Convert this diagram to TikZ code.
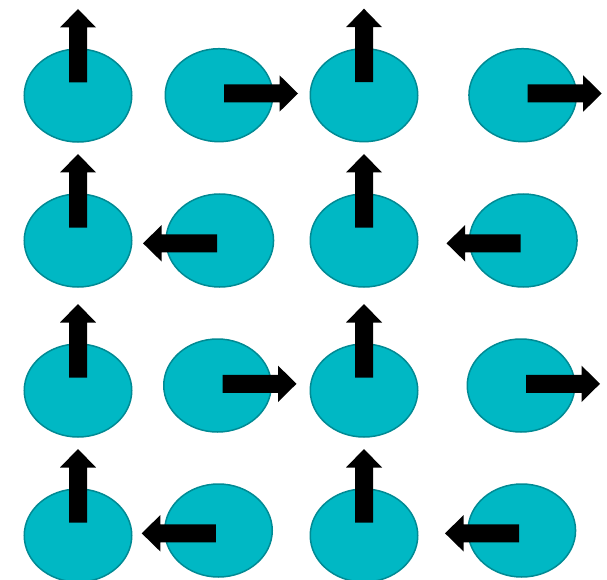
\documentclass[tikz,border=0pt]{standalone}
\usetikzlibrary{shapes.geometric}
\definecolor{ballfill}{RGB}{0,184,196}
\definecolor{ballline}{RGB}{0,138,148}
\begin{document}
\begin{tikzpicture}[x=1pt,y=-1pt,
  ball/.style={ellipse,draw=ballline,fill=ballfill,line width=1.5pt,inner sep=0pt,minimum width=107.5pt,minimum height=93pt},
  uparr/.pic={\fill[black] (-9,-13) -- (-9,-68) -- (-18,-68) -- (0,-86.5) -- (18,-68) -- (9,-68) -- (9,-13) -- cycle;},
  rightarr/.pic={\fill[black] (5,-10.7) -- (60.5,-10.7) -- (60.5,-19.9) -- (79,-1.7) -- (60.5,16.5) -- (60.5,7.3) -- (5,7.3) -- cycle;},
  leftarr/.pic={\fill[black] (-2.7,-6.2) -- (-58.2,-6.2) -- (-58.2,-15.4) -- (-76.8,2.8) -- (-58.2,21) -- (-58.2,11.8) -- (-2.7,11.8) -- cycle;}
]
\useasboundingbox (0,0) rectangle (607,580);
% row 1
\node[ball] (e11) at (78,95.5) {};
\node[ball] (e12) at (219,95.2) {};
\node[ball] (e13) at (364,95.2) {};
\node[ball] (e14) at (522.7,95.2) {};
% row 2
\node[ball] (e21) at (78,240.5) {};
\node[ball] (e22) at (219.8,240.5) {};
\node[ball] (e23) at (364,240.5) {};
\node[ball] (e24) at (523.3,240.5) {};
% row 3
\node[ball] (e31) at (78,390.5) {};
\node[ball] (e32) at (217.5,385.5) {};
\node[ball] (e33) at (364,390.5) {};
\node[ball] (e34) at (521,385.5) {};
% row 4
\node[ball] (e41) at (78,535.5) {};
\node[ball] (e42) at (218.5,530.5) {};
\node[ball] (e43) at (364,535.5) {};
\node[ball] (e44) at (521.8,530.5) {};
% arrows
\pic at (e11) {uparr};
\pic at (e12) {rightarr};
\pic at (e13) {uparr};
\pic at (e14) {rightarr};
\pic at (e21) {uparr};
\pic at (e22) {leftarr};
\pic at (e23) {uparr};
\pic at (e24) {leftarr};
\pic at (e31) {uparr};
\pic at (e32) {rightarr};
\pic at (e33) {uparr};
\pic at (e34) {rightarr};
\pic at (e41) {uparr};
\pic at (e42) {leftarr};
\pic at (e43) {uparr};
\pic at (e44) {leftarr};
\end{tikzpicture}
\end{document}
